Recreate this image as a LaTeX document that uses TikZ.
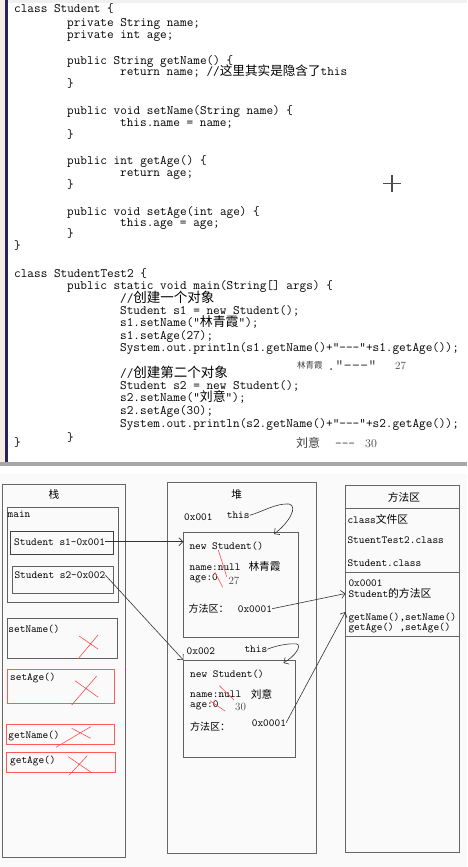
\documentclass[tikz,border=0pt]{standalone}
\usepackage{fontspec}
\newfontfamily\cjk{Noto Sans CJK SC}
\usetikzlibrary{arrows.meta}
\newcommand\codefont{\ttfamily\fontsize{12.9}{12.5}\selectfont}
\newcommand\memfont{\ttfamily\fontsize{10.8}{11}\selectfont}
\newcommand\notefont{\fontsize{11}{11}\selectfont}
\newcommand\cmt[1]{{\cjk\fontsize{13.5}{13.5}\selectfont #1}}
\newcommand\cjkm{\cjk\fontsize{10.7}{11}\selectfont}
\tikzset{
  codeln/.style={anchor=base west,inner sep=0pt,font=\codefont,text height=8.5pt,text depth=2pt},
  noteln/.style={anchor=base west,inner sep=0pt,font=\notefont,text=black!75},
  memln/.style={anchor=base west,inner sep=0pt,font=\memfont},
  cjkln/.style={anchor=base west,inner sep=0pt,font=\cjkm},
  memarea/.style={draw=gray!80!black,line width=.9pt,anchor=north west,inner sep=0pt},
  membox/.style={draw=gray!75!black,line width=.8pt,anchor=north west,inner sep=0pt},
  redbox/.style={draw=red!65,line width=.9pt,anchor=north west,inner sep=0pt},
  strike/.style={red!70,line width=.6pt},
  ptr/.style={-{Straight Barb[length=4pt,width=8pt]},line width=.6pt,black!80},
  rule/.style={gray!80!black,line width=.8pt}
}

\begin{document}
\begin{tikzpicture}[x=1pt,y=-1pt]
  \useasboundingbox (0,0) rectangle (467,867);
  % code window
  \fill[white] (0,0) rectangle (467,466);
  \fill[gray!12] (0,0) rectangle (467,3);
  \fill[brown!14] (0,0) rectangle (5,466);
  \fill[gray!60!blue!50!black] (5,0) rectangle (8,466);
  \fill[gray!70] (0,462) rectangle (467,466);

  \node[codeln] (c1) at (14,13) {class Student \{};
  \node[codeln] (c2) at (67,26.5) {private String name;};
  \node[codeln] (c3) at (67,38.5) {private int age;};
  \node[codeln] (c4) at (67,64.5) {public String getName() \{};
  \node[codeln] (c5) at (120,75.5) {return name; //{\cjk\fontsize{12.6}{12.5}\selectfont 这里其实是隐含了}this};
  \node[codeln] (c6) at (67,87) {\}};
  \node[codeln] (c7) at (67,114) {public void setName(String name) \{};
  \node[codeln] (c8) at (120,126) {this.name = name;};
  \node[codeln] (c9) at (67,138) {\}};
  \node[codeln] (c10) at (67,164.5) {public int getAge() \{};
  \node[codeln] (c11) at (120,176) {return age;};
  \node[codeln] (c12) at (67,188) {\}};
  \node[codeln] (c13) at (67,215) {public void setAge(int age) \{};
  \node[codeln] (c14) at (120,226) {this.age = age;};
  \node[codeln] (c15) at (67,237) {\}};
  \node[codeln] (c16) at (14,249) {\}};
  \node[codeln] (c17) at (14,277) {class StudentTest2 \{};
  \node[codeln] (c18) at (67,289) {public static void main(String[] args) \{};
  \node[codeln] (c19) at (120,302) {//\cmt{创建一个对象}};
  \node[codeln] (c20) at (120,314) {Student s1 = new Student();};
  \node[codeln] (c21) at (120,326) {s1.setName("{\cjk 林青霞}");};
  \node[codeln] (c22) at (120,339) {s1.setAge(27);};
  \node[codeln] (c23) at (120,351) {System.out.println(s1.getName()+"---"+s1.getAge());};
  % printed result 1
  \node[noteln,font=\cjk\fontsize{8.5}{9}\selectfont] (n1) at (297,368.5) {林青霞};
  \node[noteln,font=\ttfamily\fontsize{16}{16}\selectfont] (q1) at (327,370) {."---"};
  \node[noteln] (v1) at (395,369) {27};
  \node[codeln] (c24) at (120,377.5) {//\cmt{创建第二个对象}};
  \node[codeln] (c25) at (120,389) {Student s2 = new Student();};
  \node[codeln] (c26) at (120,401) {s2.setName("{\cjk 刘意}");};
  \node[codeln] (c27) at (120,414) {s2.setAge(30);};
  \node[codeln] (c28) at (120,427) {System.out.println(s2.getName()+"---"+s2.getAge());};
  \node[codeln] (c29) at (67,441) {\}};
  \node[codeln] (c30) at (14,446) {\}};
  % printed result 2
  \node[noteln,font=\cjk\fontsize{12}{12}\selectfont] (n2) at (296,447) {刘意};
  \node[noteln,font=\codefont] (q2) at (335,447) {---};
  \node[noteln,font=\fontsize{12}{12}\selectfont] (v2) at (365,447) {30};
  % cursor
  \draw[gray!60!black,line width=1.2pt] (392,175) -- (392,192) (383,183.5) -- (401,183.5);

  % memory diagram
  \fill[gray!4] (0,474) rectangle (467,867);

  % stack
  \node[memarea,minimum width=123.5,minimum height=373.2] (stack) at (1.5,483.5) {};
  \node[font=\cjkm] (stacktitle) at (54,494) {栈};
  \node[membox,minimum width=111,minimum height=95] (main) at (6.7,506.7) {};
  \node[memln] (mainlbl) at (7.5,517.5) {main};
  \node[membox,draw=black!75,minimum width=102.7,minimum height=23.3] (s1box) at (10,531) {};
  \node[memln] (s1txt) at (14,545) {Student s1\textemdash 0x001};
  \node[membox,minimum width=101,minimum height=26.7] (s2box) at (12.3,566) {};
  \node[memln] (s2txt) at (14.3,578.5) {Student s2\textemdash 0x002};
  \node[membox,minimum width=109.4,minimum height=40.6] (setname) at (7.3,617.7) {};
  \node[memln] (setnametxt) at (8.3,632.5) {setName()};
  \node[redbox,minimum width=107.6,minimum height=34] (setage) at (6.7,669.3) {};
  \node[memln] (setagetxt) at (10,680.5) {setAge()};
  \node[redbox,minimum width=108.3,minimum height=20] (getname) at (6,724.3) {};
  \node[memln] (getnametxt) at (8.3,738.5) {getName()};
  \node[redbox,minimum width=109,minimum height=20.6] (getage) at (6,751.7) {};
  \node[memln] (getagetxt) at (10,763) {getAge()};
  \draw[strike] (78,659) -- (98,635) (79,636) -- (98,649);
  \draw[strike] (71.7,705) -- (96.7,676) (75,680.7) -- (98.3,697.3);
  \draw[strike] (56,747.3) -- (90.7,726.7) (71.7,728.3) -- (90.7,738.3);
  \draw[strike] (69.3,775) -- (87.3,755.7) (68.3,756.7) -- (91.7,772.7);

  % heap
  \node[memarea,minimum width=149,minimum height=370.4] (heap) at (166.7,482.3) {};
  \node[font=\cjkm] (heaptitle) at (236.7,494) {堆};
  \node[memln] (addr1) at (184,520) {0x001};
  \node[memln] (this1) at (226.7,518.5) {this};
  \node[membox,minimum width=115,minimum height=105.6] (obj1) at (183.3,531.7) {};
  \node[memln] (new1) at (189.3,549.5) {new Student()};
  \node[memln] (name1) at (189.3,570) {name:null};
  \node[cjkln] (val1) at (248.3,570.5) {林青霞};
  \node[memln] (age1) at (189.3,580.5) {age:0};
  \node[noteln] (num1) at (228.3,584.5) {27};
  \node[cjkln,font=\cjk\fontsize{10}{11}\selectfont] (mlbl1) at (188.3,612) {方法区：};
  \node[memln] (ma1) at (237.7,612) {0x0001};
  \draw[strike] (218.3,550) -- (226.7,576.7) (215,572.3) -- (222.7,587.3);

  \node[memln] (addr2) at (186.5,654.5) {0x002};
  \node[memln] (this2) at (244.3,652.5) {this};
  \node[membox,minimum width=111.7,minimum height=97.3] (obj2) at (183.3,660) {};
  \node[memln] (new2) at (190,677) {new Student()};
  \node[memln] (name2) at (190,697.5) {name:null};
  \node[cjkln] (val2) at (250.7,698.5) {刘意};
  \node[memln] (age2) at (190,707.5) {age:0};
  \node[noteln] (num2) at (235,710) {30};
  \node[cjkln,font=\cjk\fontsize{10}{11}\selectfont] (mlbl2) at (190,730) {方法区：};
  \node[memln] (ma2) at (251.7,726) {0x0001};
  \draw[strike] (219.3,685.7) -- (234,700) (210,700.7) -- (225,711);

  % method area
  \node[memarea,minimum width=114,minimum height=367.3] (marea) at (345,485) {};
  \node[font=\cjkm] (mtitle) at (404,497) {方法区};
  \draw[rule] (345,508.3) -- (459,508.3);
  \node[memln] (cfile) at (347.3,523.5) {class{\cjk 文件区}};
  \node[memln] (tcls) at (347.3,543.5) {StuentTest2.class};
  \node[memln] (scls) at (347.3,566) {Student.class};
  \draw[rule] (345,572.7) -- (459,572.7);
  \node[memln] (mhead) at (348.3,586.5) {0x0001};
  \node[memln] (mname) at (348.3,597.5) {Student{\cjk 的方法区}};
  \node[memln] (mget) at (348.3,620) {getName(),setName()};
  \node[memln] (mset) at (348.3,630) {getAge() ,setAge()};
  \draw[rule] (345,636.7) -- (459,636.7);

  % pointers
  \coordinate (t1) at (274,534);
  \coordinate (t2) at (283.5,663);
  \coordinate (in1) at (345.5,593.5);
  \coordinate (in2) at (345.5,612);
  \draw[ptr] (s1txt.east) -- (s1txt.east -| obj1.west);
  \draw[ptr] (s2txt.east) -- (obj2.north west);
  \draw[ptr] (this1.east) .. controls (262,512) and (276,503) .. (289,504) .. controls (298,506) and (290,522) .. (t1);
  \draw[ptr] (this2.east) .. controls (275,646) and (288,643) .. (297,644) .. controls (302,646) and (295,656) .. (t2);
  \draw[ptr] (ma1.east) -- (in1);
  \draw[ptr] (ma2.east) -- (in2);
\end{tikzpicture}
\end{document}
